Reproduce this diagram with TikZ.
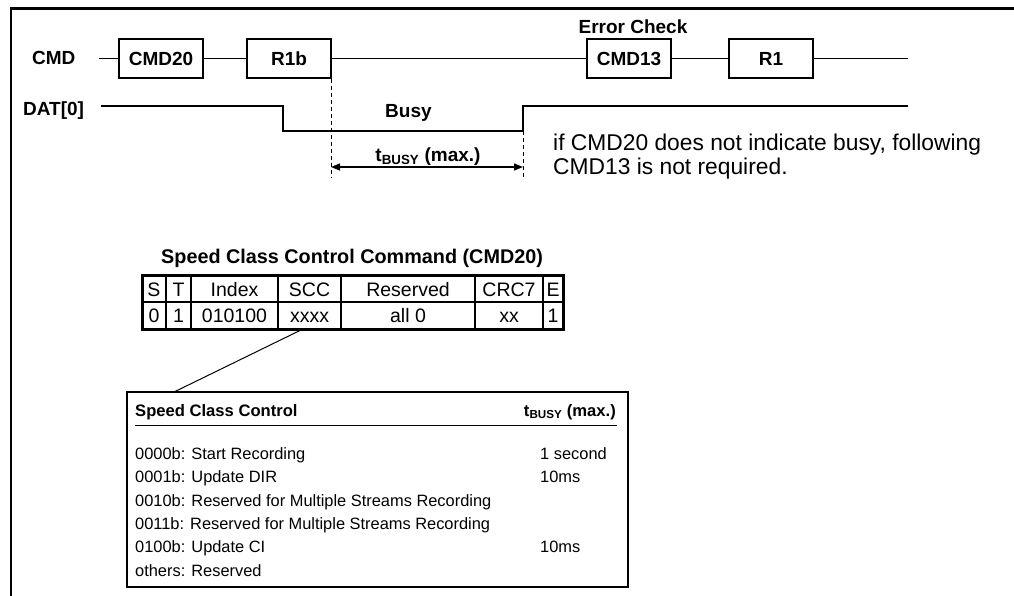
\documentclass[tikz,border=0pt]{standalone}
\usepackage{fontspec}
\setmainfont{Liberation Sans}
\usetikzlibrary{arrows.meta, positioning}

\begin{document}
\begin{tikzpicture}[x=1pt, y=-1pt,
        sigbox/.style={rectangle, draw, line width=1.3pt, minimum width=84pt, minimum height=39pt, inner sep=0pt, font=\fontsize{19}{23}\selectfont\bfseries},
        signame/.style={inner sep=0pt, anchor=base west, font=\fontsize{19}{23}\selectfont\bfseries},
        wire/.style={draw, line width=1.3pt},
        guide/.style={draw, line width=0.9pt, dash pattern=on 4pt off 3pt},
        cell/.style={inner sep=0pt, anchor=base, font=\fontsize{19.5}{23}\selectfont},
        entry/.style={inner sep=0pt, anchor=base west, font=\fontsize{16.4}{23}\selectfont}]

        \useasboundingbox (0,0) rectangle (1014,595);
        % frame
        \draw[line width=1.5pt] (11,600) -- (11,8.5);
        \draw[line width=2.8pt] (10,8.5) -- (1020,8.5);

        % CMD line
        \node [signame] (cmd) at (32,64) {CMD};
        \node [sigbox] (cmd20) at (161,58.5) {CMD20};
        \node [sigbox] (r1b) at (289,58.5) {R1b};
        \node [sigbox] (cmd13) at (629,58.5) {CMD13};
        \node [sigbox] (r1) at (771,58.5) {R1};
        \node [signame, anchor=base] (errchk) at (633,33) {Error Check};
        \coordinate (cmdin) at (99,58.5);
        \coordinate (cmdout) at (908,58.5);
        \path [wire] (cmdin) -- (cmd20) -- (r1b) -- (cmd13) -- (r1) -- (cmdout);

        % DAT line
        \node [signame] (dat) at (23,115) {DAT[0]};
        \coordinate (datin) at (101,106);
        \coordinate (fall) at (283,106);
        \coordinate (rise) at (523,131);
        \coordinate (datout) at (908,106);
        \path [wire] (datin) -- (fall) -- ++(0,25) -- (rise) -- ++(0,-25) -- (datout);
        \node [signame] (busy) at (385,117) {Busy};

        % busy time
        \coordinate (tstart) at (331,167);
        \coordinate (tend) at (523,167);
        \path [guide] (r1b.south east) -- ++(0,99);
        \path [guide] (rise) -- ++(0,46);
        \draw [{Triangle[length=9pt,width=7pt]}-{Triangle[length=9pt,width=7pt]}, line width=1.3pt] (tstart) -- (tend);
        \node [signame, anchor=base] (tbusy) at (428,161) {t\textsubscript{BUSY} (max.)};
        \node [inner sep=0pt, anchor=base west, align=left, font=\fontsize{22.8}{23.5}\selectfont] (note) at (553,174) {if CMD20 does not indicate busy, following\\CMD13 is not required.};

        % command table
        \node [signame, font=\fontsize{19.8}{23}\selectfont\bfseries] (cmdtitle) at (161,263) {Speed Class Control Command (CMD20)};
        \draw [line width=1.3pt] (142,302) -- (563,302);
        \draw [line width=1.3pt] (166,275) -- (166,329) (191,275) -- (191,329) (278,275) -- (278,329)
            (341,275) -- (341,329) (475,275) -- (475,329) (543,275) -- (543,329);
        \draw [line width=3pt] (142,275) rectangle (563,329);
        \node [cell] (hs) at (154,296) {S};
        \node [cell] (ht) at (178.5,296) {T};
        \node [cell] (hindex) at (234.5,296) {Index};
        \node [cell] (hscc) at (309.5,296) {SCC};
        \node [cell] (hres) at (408,296) {Reserved};
        \node [cell] (hcrc) at (509,296) {CRC7};
        \node [cell] (he) at (553,296) {E};
        \node [cell] (vs) at (154,322.5) {0};
        \node [cell] (vt) at (178.5,322.5) {1};
        \node [cell] (vindex) at (234.5,322.5) {010100};
        \node [cell] (vscc) at (309.5,322.5) {xxxx};
        \node [cell] (vres) at (408,322.5) {all 0};
        \node [cell] (vcrc) at (509,322.5) {xx};
        \node [cell] (ve) at (553,322.5) {1};

        % speed class control box
        \node [draw, line width=1.3pt, minimum width=501pt, minimum height=195pt, inner sep=0pt] (scbox) at (377.5,489.5) {};
        \coordinate (lead) at (303,329);
        \draw [line width=1pt] (lead) -- ([xshift=49pt]scbox.north west);
        \node [entry, font=\fontsize{16.6}{23}\selectfont\bfseries] (schead) at (135,416) {Speed Class Control};
        \node [entry, anchor=base east, font=\fontsize{16.6}{23}\selectfont\bfseries] (tbhead) at (616,416) {t\textsubscript{BUSY} (max.)};
        \draw [line width=1pt] (135,425) -- (617,425);
        \node [entry] (sc0) at (135,459) {0000b: Start Recording};
        \node [entry] (sc1) at (135,482.5) {0001b: Update DIR};
        \node [entry] (sc2) at (135,506) {0010b: Reserved for Multiple Streams Recording};
        \node [entry] (sc3) at (135,529) {0011b: Reserved for Multiple Streams Recording};
        \node [entry] (sc4) at (135,552.5) {0100b: Update CI};
        \node [entry] (sc5) at (135,576) {others: Reserved};
        \node [entry] (tb0) at (540,459) {1 second};
        \node [entry] (tb1) at (540,482.5) {10ms};
        \node [entry] (tb4) at (540,552.5) {10ms};
    \end{tikzpicture}
\end{document}
